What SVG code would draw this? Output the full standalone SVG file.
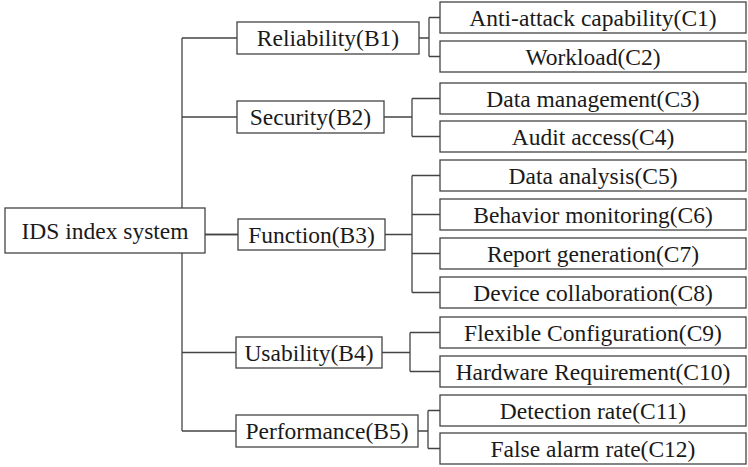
<svg xmlns="http://www.w3.org/2000/svg" width="748" height="467" viewBox="0 0 748 467">
  <style>
    .box { fill: #ffffff; stroke: #444444; stroke-width: 1.3; }
    .wire { fill: none; stroke: #444444; stroke-width: 1.3; }
    .lbl { font-family: "Liberation Serif", "Times New Roman", serif; font-size: 23.5px; fill: #1a1a1a; text-anchor: middle; }
  </style>
  <rect width="748" height="467" fill="#ffffff"/>

  <!-- tree connectors -->
  <g id="connectors" class="wire">
    <!-- trunk from the root to the five criteria -->
    <path d="M182 38 V431"/>
    <path d="M182 38 H237 M182 117 H237 M182 234.5 H238 M182 352.5 H236 M182 431 H236"/>
    <path d="M205 234.5 H238"/>
    <!-- B1 -> C1, C2 -->
    <path d="M419 38 H429 M429 17.5 V56.5 M429 17.5 H440 M429 56.5 H440"/>
    <!-- B2 -> C3, C4 -->
    <path d="M384 117 H412 M412 98.5 V136.5 M412 98.5 H440 M412 136.5 H440"/>
    <!-- B3 -> C5..C8 -->
    <path d="M385 234.5 H412 M412 175.5 V292.5 M412 175.5 H440 M412 214.5 H440 M412 253.5 H440 M412 292.5 H440"/>
    <!-- B4 -> C9, C10 -->
    <path d="M382 352.5 H410 M410 332.5 V371.5 M410 332.5 H440 M410 371.5 H440"/>
    <!-- B5 -> C11, C12 -->
    <path d="M418 431 H428 M428 410.5 V448.5 M428 410.5 H440 M428 448.5 H440"/>
  </g>

  <!-- root -->
  <g id="root">
    <rect class="box" x="5" y="208" width="200" height="45"/>
    <text class="lbl" x="105" y="238.5">IDS index system</text>
  </g>

  <!-- criteria layer -->
  <g id="B1">
    <rect class="box" x="237" y="22" width="182" height="32"/>
    <text class="lbl" x="328" y="46">Reliability(B1)</text>
  </g>
  <g id="B2">
    <rect class="box" x="237" y="101" width="147" height="32"/>
    <text class="lbl" x="310.5" y="125">Security(B2)</text>
  </g>
  <g id="B3">
    <rect class="box" x="238" y="219" width="147" height="31"/>
    <text class="lbl" x="311.5" y="242.5">Function(B3)</text>
  </g>
  <g id="B4">
    <rect class="box" x="236" y="337" width="146" height="31"/>
    <text class="lbl" x="309" y="360.5">Usability(B4)</text>
  </g>
  <g id="B5">
    <rect class="box" x="236" y="415" width="182" height="32"/>
    <text class="lbl" x="327" y="439">Performance(B5)</text>
  </g>

  <!-- indicator layer -->
  <g id="C1">
    <rect class="box" x="440" y="2" width="306" height="31"/>
    <text class="lbl" x="593" y="25.5">Anti-attack capability(C1)</text>
  </g>
  <g id="C2">
    <rect class="box" x="440" y="41" width="306" height="31"/>
    <text class="lbl" x="593" y="64.5">Workload(C2)</text>
  </g>
  <g id="C3">
    <rect class="box" x="440" y="83" width="306" height="31"/>
    <text class="lbl" x="593" y="106.5">Data management(C3)</text>
  </g>
  <g id="C4">
    <rect class="box" x="440" y="121" width="306" height="31"/>
    <text class="lbl" x="593" y="144.5">Audit access(C4)</text>
  </g>
  <g id="C5">
    <rect class="box" x="440" y="160" width="306" height="31"/>
    <text class="lbl" x="593" y="183.5">Data analysis(C5)</text>
  </g>
  <g id="C6">
    <rect class="box" x="440" y="199" width="306" height="31"/>
    <text class="lbl" x="593" y="222.5">Behavior monitoring(C6)</text>
  </g>
  <g id="C7">
    <rect class="box" x="440" y="238" width="306" height="31"/>
    <text class="lbl" x="593" y="261.5">Report generation(C7)</text>
  </g>
  <g id="C8">
    <rect class="box" x="440" y="277" width="306" height="31"/>
    <text class="lbl" x="593" y="300.5">Device collaboration(C8)</text>
  </g>
  <g id="C9">
    <rect class="box" x="440" y="317" width="306" height="31"/>
    <text class="lbl" x="593" y="340.5">Flexible Configuration(C9)</text>
  </g>
  <g id="C10">
    <rect class="box" x="440" y="356" width="306" height="31"/>
    <text class="lbl" x="593" y="379.5">Hardware Requirement(C10)</text>
  </g>
  <g id="C11">
    <rect class="box" x="440" y="395" width="306" height="31"/>
    <text class="lbl" x="593" y="418.5">Detection rate(C11)</text>
  </g>
  <g id="C12">
    <rect class="box" x="440" y="433" width="306" height="31"/>
    <text class="lbl" x="593" y="456.5">False alarm rate(C12)</text>
  </g>
</svg>
